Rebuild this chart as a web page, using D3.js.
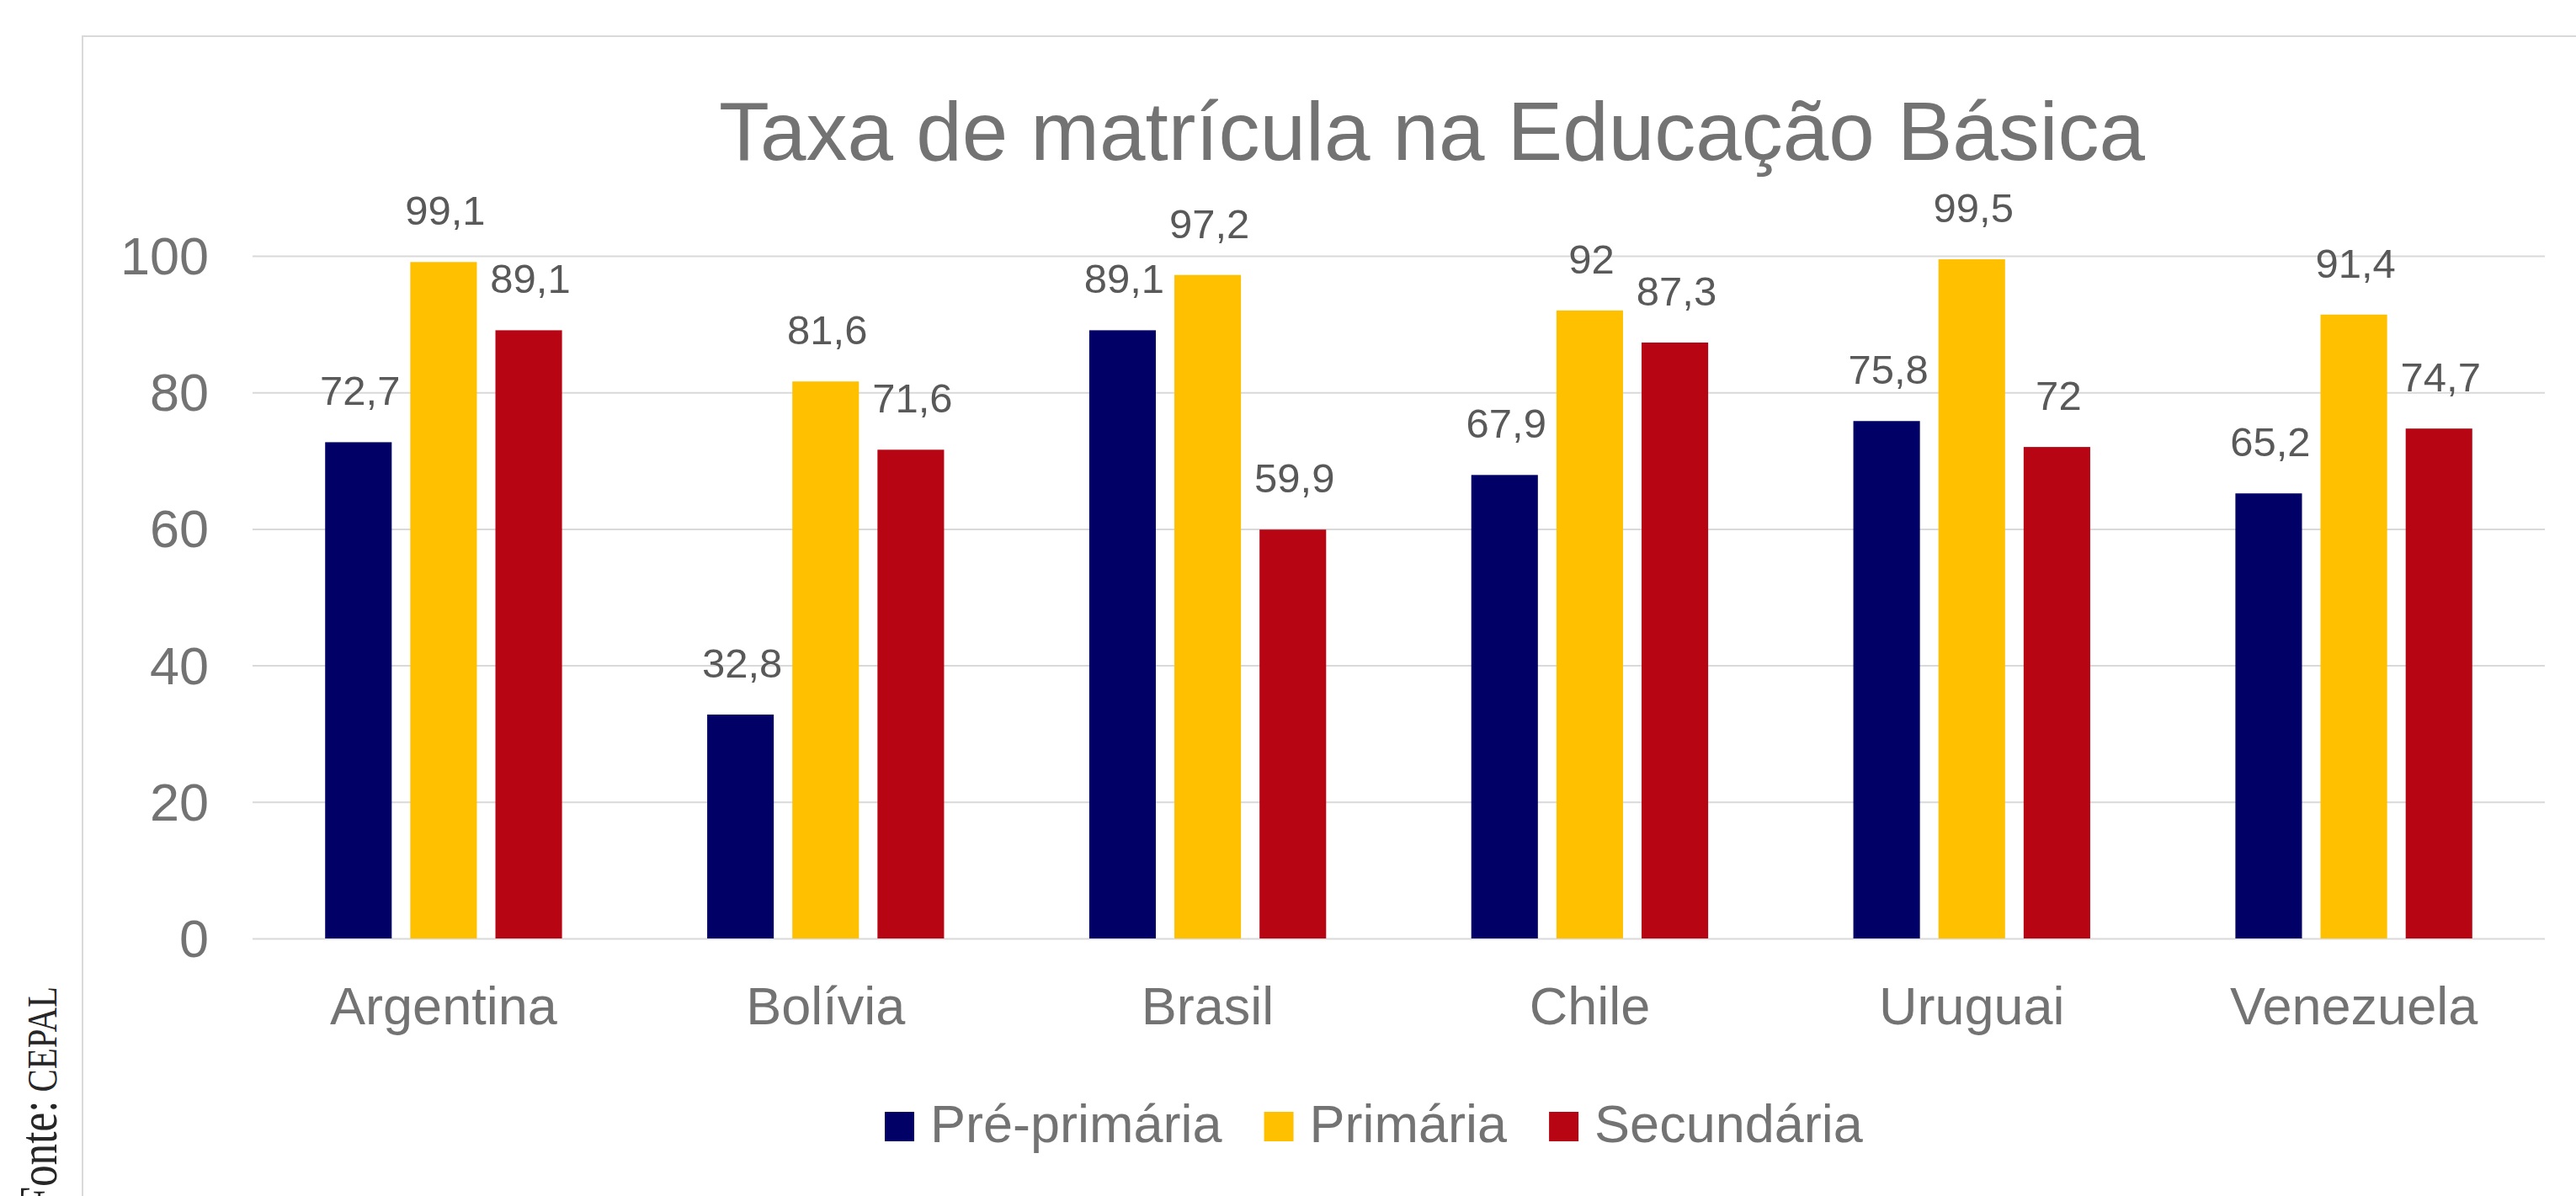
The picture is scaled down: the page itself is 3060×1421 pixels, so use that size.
<!DOCTYPE html>
<html>
<head>
<meta charset="utf-8">
<title>Taxa de matrícula na Educação Básica</title>
<script src="https://cdn.jsdelivr.net/npm/d3@7"></script>
<style>
  html, body { margin: 0; padding: 0; background: #fff; }
  svg { display: block; }
</style>
</head>
<body>
<div id="chart"></div>
<script>
(function(){
// --- dados ---
const countries = ["Argentina", "Bolívia", "Brasil", "Chile", "Uruguai", "Venezuela"];
const levels = ["Pré-primária", "Primária", "Secundária"];
const prePrimaria = [72.7, 32.8, 89.1, 67.9, 75.8, 65.2];
const primaria = [99.1, 81.6, 97.2, 92, 99.5, 91.4];
const secundaria = [89.1, 71.6, 59.9, 87.3, 72, 74.7];
const yTicks = [0, 20, 40, 60, 80, 100];
const colors = ["#000066", "#FFC000", "#B80514"];

const series = [prePrimaria, primaria, secundaria];
const rows = countries.map((c, i) => ({
    country: c,
    values: levels.map((l, j) => ({ level: l, value: series[j][i] }))
}));

const width = 3060, height = 1421;
const plot = { left: 300, right: 3023, top: 304, bottom: 1115 };

const svg = d3.select("#chart").append("svg")
    .attr("width", width)
    .attr("height", height)
    .style("font-family", "'Liberation Sans', Arial, sans-serif");

// moldura do gráfico
svg.append("rect")
    .attr("x", 98).attr("y", 43)
    .attr("width", 3400).attr("height", 1600)
    .attr("fill", "none")
    .attr("stroke", "#d9d9d9")
    .attr("stroke-width", 2);

// título
svg.append("text")
    .attr("x", 1701).attr("y", 190)
    .attr("text-anchor", "middle")
    .style("font-size", "98px")
    .style("fill", "#737373")
    .text("Taxa de matrícula na Educação Básica");

// escalas
const x0 = d3.scaleBand()
    .domain(countries)
    .range([plot.left, plot.right])
    .paddingInner(0.38)
    .paddingOuter(0.19);

const x1 = d3.scaleBand()
    .domain(levels)
    .range([0, x0.bandwidth()])
    .paddingInner(0.218);

const y = d3.scaleLinear()
    .domain([0, 100])
    .range([plot.bottom, plot.top]);

const color = d3.scaleOrdinal().domain(levels).range(colors);

// eixo y com linhas de grade
const yAxis = svg.append("g")
    .attr("transform", `translate(${plot.left},0)`)
    .call(d3.axisLeft(y).tickValues(yTicks)
        .tickSize(-(plot.right - plot.left))
        .tickPadding(52)
        .tickFormat(d3.format("d")));
yAxis.select(".domain").remove();
yAxis.selectAll(".tick line")
    .attr("stroke", "#d9d9d9")
    .attr("stroke-width", 2);
yAxis.selectAll(".tick text")
    .style("font-size", "63px")
    .style("font-family", "'Liberation Sans', Arial, sans-serif")
    .attr("fill", "#737373")
    .attr("dy", "0.34em");

// eixo x (só rótulos)
const xAxis = svg.append("g")
    .attr("transform", `translate(0,${plot.bottom})`)
    .call(d3.axisBottom(x0).tickSize(0).tickPadding(102));
xAxis.select(".domain").remove();
xAxis.selectAll(".tick text")
    .style("font-size", "63px")
    .style("font-family", "'Liberation Sans', Arial, sans-serif")
    .attr("fill", "#737373")
    .attr("dy", "0");

// barras
const groups = svg.selectAll(".group")
    .data(rows)
    .enter()
    .append("g")
    .attr("class", "group")
    .attr("transform", d => `translate(${x0(d.country)},0)`);

groups.selectAll("rect")
    .data(d => d.values)
    .enter()
    .append("rect")
    .attr("x", d => x1(d.level))
    .attr("y", d => y(d.value))
    .attr("width", x1.bandwidth())
    .attr("height", d => y(0) - y(d.value))
    .attr("fill", d => color(d.level));

// rótulos de dados
const fmt = v => String(v).replace(".", ",");
groups.selectAll(".lbl")
    .data(d => d.values)
    .enter()
    .append("text")
    .attr("class", "lbl")
    .attr("x", d => x1(d.level) + x1.bandwidth() / 2 + 2)
    .attr("y", d => y(d.value) - 44)
    .attr("text-anchor", "middle")
    .style("font-size", "49px")
    .style("fill", "#595959")
    .text(d => fmt(d.value));

// legenda
const legend = svg.append("g").attr("class", "legend");
let lx = 1051;
levels.forEach(l => {
    legend.append("rect")
        .attr("x", lx).attr("y", 1321)
        .attr("width", 35).attr("height", 35)
        .attr("fill", color(l));
    const t = legend.append("text")
        .attr("x", lx + 54).attr("y", 1357)
        .style("font-size", "63px")
        .style("fill", "#737373")
        .text(l);
    lx += 54 + t.node().getComputedTextLength() + 50;
});

// fonte (texto vertical, cortado na borda inferior)
const src = svg.append("text")
    .attr("transform", "translate(67,1172) rotate(-90) scale(0.8,1)")
    .attr("text-anchor", "end")
    .style("font-family", "'Liberation Serif', 'Times New Roman', serif")
    .style("fill", "#262626");
src.append("tspan").style("font-size", "64px").text("Fonte:");
src.append("tspan").style("font-size", "51px").text(" CEPAL");
})();
</script>
</body>
</html>
